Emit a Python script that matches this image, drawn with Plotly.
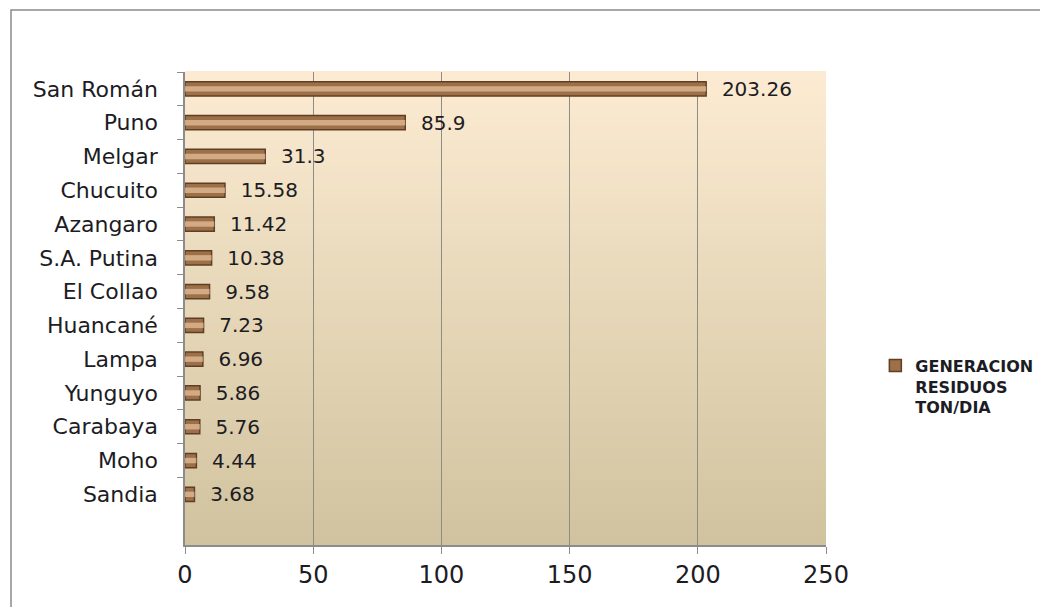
import plotly.graph_objects as go

categories = ["San Román", "Puno", "Melgar", "Chucuito", "Azangaro", "S.A. Putina",
              "El Collao", "Huancané", "Lampa", "Yunguyo", "Carabaya", "Moho", "Sandia"]
values = [203.26, 85.9, 31.3, 15.58, 11.42, 10.38, 9.58, 7.23, 6.96, 5.86, 5.76, 4.44, 3.68]
value_labels = ["203.26", "85.9", "31.3", "15.58", "11.42", "10.38", "9.58", "7.23",
                "6.96", "5.86", "5.76", "4.44", "3.68"]
x_ticks = [0, 50, 100, 150, 200, 250]
series_name = "GENERACION<br>RESIDUOS<br>TON/DIA"

FONT = "DejaVu Sans"
TXT = "#1c1c24"

fig = go.Figure()
fig.add_trace(go.Bar(
    y=categories, x=values, orientation="h", name=series_name,
    width=0.42,
    marker=dict(color="#9E7048", line=dict(color="#5E3F26", width=1.5)),
    text=["  " + t for t in value_labels], textposition="outside",
    constraintext="none",
    textfont=dict(family=FONT, size=20, color=TXT),
    cliponaxis=False,
))
fig.add_trace(go.Bar(
    y=categories, x=values, orientation="h", showlegend=False, hoverinfo="skip",
    width=0.16,
    marker=dict(color="rgba(218,180,145,0.85)", line=dict(width=0)),
))

# gradient background of plot area
top = (252, 235, 210)
bot = (209, 195, 159)
n = 60
shapes = []
for i in range(n):
    f = i / (n - 1)
    c = tuple(int(round(top[k] + (bot[k] - top[k]) * f)) for k in range(3))
    shapes.append(dict(type="rect", xref="x domain", yref="y domain",
                       x0=0, x1=1, y0=1 - (i + 1) / n, y1=1 - i / n + 0.002,
                       fillcolor="rgb(%d,%d,%d)" % c, line=dict(width=0), layer="below"))
# outer chart frame
shapes.append(dict(type="rect", xref="paper", yref="paper",
                   x0=(11 - 185) / 641, x1=(1060 - 185) / 641,
                   y0=(545 - 640) / 473, y1=(545 - 10) / 473,
                   line=dict(color="#8a8a8a", width=1.5), fillcolor="rgba(0,0,0,0)", layer="below"))

fig.update_layout(
    width=1040, height=607,
    margin=dict(l=185, r=214, t=72, b=62, autoexpand=False),
    paper_bgcolor="white", plot_bgcolor="rgba(0,0,0,0)",
    barmode="overlay",
    shapes=shapes,
    font=dict(family=FONT, color=TXT),
    showlegend=True,
    legend=dict(x=1.077, y=0.415, xanchor="left", yanchor="top", valign="top",
                font=dict(family=FONT, size=16, color=TXT, weight="bold"),
                bgcolor="rgba(0,0,0,0)", itemwidth=30, tracegroupgap=0),
    xaxis=dict(range=[0, 250], tickvals=x_ticks, ticktext=[str(v) for v in x_ticks],
               showgrid=True, gridcolor="#8c8c8c", gridwidth=1,
               showline=True, linecolor="#8c8c8c", linewidth=1.5,
               ticks="outside", ticklen=7, tickcolor="#8c8c8c",
               tickfont=dict(family=FONT, size=24, color=TXT), zeroline=False),
    yaxis=dict(type="category", categoryorder="array", categoryarray=categories,
               range=[13.5, -0.5], showgrid=False,
               showline=True, linecolor="#8c8c8c", linewidth=1.5,
               ticks="outside", ticklen=6, tickcolor="#8c8c8c", tickson="boundaries",
               tickfont=dict(family=FONT, size=22, color=TXT), ticksuffix="   "),
)

fig.write_html("out.html")
